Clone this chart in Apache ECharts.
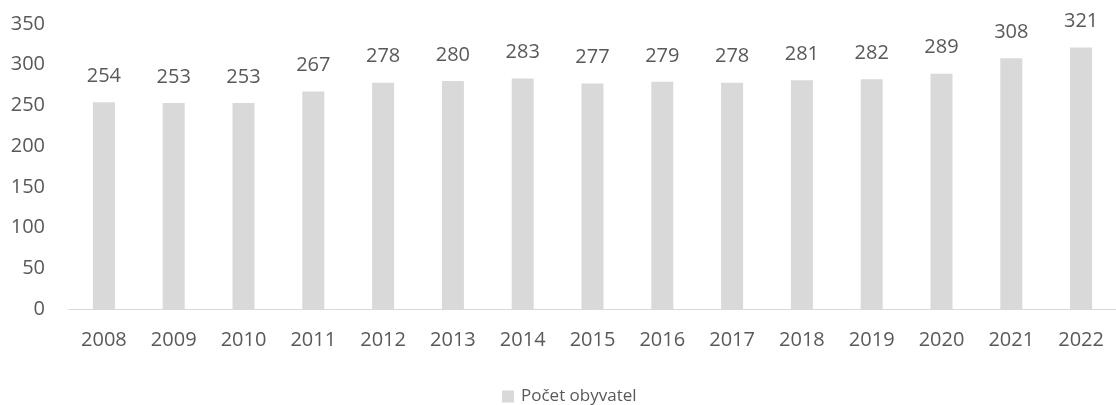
<!DOCTYPE html>
<html>
<head>
<meta charset="utf-8">
<script src="https://cdn.jsdelivr.net/npm/echarts@6/dist/echarts.min.js"></script>
<style>
  html, body { margin: 0; padding: 0; background: #fff; }
  #chart { width: 1116px; height: 405px; }
</style>
</head>
<body>
<div id="chart"></div>
<script>
var years = ['2008', '2009', '2010', '2011', '2012', '2013', '2014', '2015', '2016', '2017', '2018', '2019', '2020', '2021', '2022'];
var population = [254, 253, 253, 267, 278, 280, 283, 277, 279, 278, 281, 282, 289, 308, 321];
var seriesName = 'Počet obyvatel';

var textColor = '#595959';
var font = "'Open Sans', sans-serif";

var chart = echarts.init(document.getElementById('chart'));
var option = {
    animation: false,
    grid: {
        left: 69,
        top: 24,
        width: 1057,
        height: 285
    },
    legend: {
        data: [seriesName],
        left: 497,
        top: 383,
        icon: 'rect',
        itemWidth: 12,
        itemHeight: 12,
        itemGap: 5,
        textStyle: {
            color: textColor,
            fontSize: 17,
            fontFamily: font,
            padding: [0, 0, 0, 2]
        }
    },
    xAxis: {
        type: 'category',
        data: years,
        axisLine: { lineStyle: { color: '#d9d9d9', width: 1 } },
        axisTick: { show: false },
        axisLabel: {
            color: textColor,
            fontSize: 20,
            fontFamily: font,
            margin: 21
        }
    },
    yAxis: {
        type: 'value',
        min: 0,
        max: 350,
        interval: 50,
        splitLine: { show: false },
        axisLine: { show: false },
        axisTick: { show: false },
        axisLabel: {
            color: textColor,
            fontSize: 20,
            fontFamily: font,
            margin: 24
        }
    },
    series: [{
        name: seriesName,
        type: 'bar',
        barWidth: 22,
        data: population,
        itemStyle: { color: '#d9d9d9' },
        label: {
            show: true,
            position: 'top',
            distance: 16,
            color: textColor,
            fontSize: 20,
            fontFamily: font
        }
    }]
};
chart.setOption(option);
</script>
</body>
</html>
